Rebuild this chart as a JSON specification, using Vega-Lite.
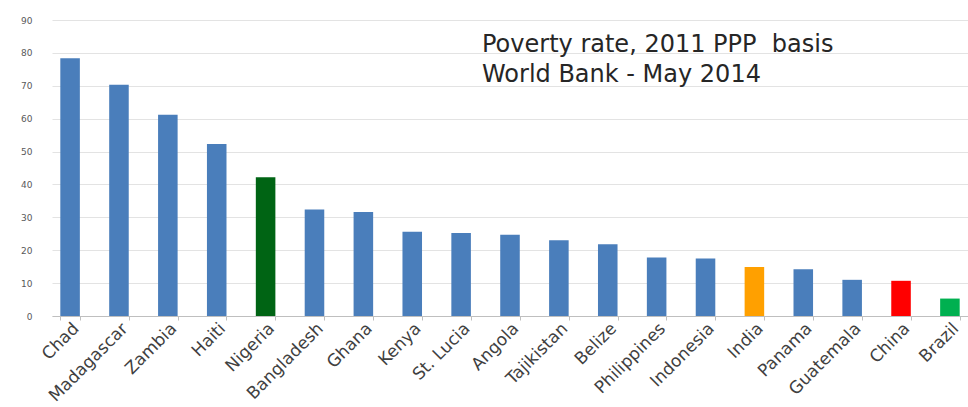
{
  "$schema": "https://vega.github.io/schema/vega-lite/v6.json",
  "autosize": {"type": "none"},
  "width": 916,
  "height": 296,
  "padding": {"left": 52, "top": 20, "right": 0, "bottom": 91},
  "background": "white",
  "title": {
    "text": ["Poverty rate, 2011 PPP\u00a0 basis", "World Bank - May 2014"],
    "anchor": "start",
    "frame": "group",
    "orient": "top",
    "baseline": "alphabetic",
    "font": "DejaVu Sans",
    "fontSize": 24,
    "fontWeight": "normal",
    "color": "#262626",
    "lineHeight": 30,
    "dx": 430,
    "dy": 57,
    "offset": -33
  },
  "data": {
    "values": [
      {"Country": "Chad", "Rate": 78.4},
      {"Country": "Madagascar", "Rate": 70.3},
      {"Country": "Zambia", "Rate": 61.2},
      {"Country": "Haiti", "Rate": 52.3},
      {"Country": "Nigeria", "Rate": 42.2},
      {"Country": "Bangladesh", "Rate": 32.4},
      {"Country": "Ghana", "Rate": 31.6},
      {"Country": "Kenya", "Rate": 25.6},
      {"Country": "St. Lucia", "Rate": 25.2},
      {"Country": "Angola", "Rate": 24.7},
      {"Country": "Tajikistan", "Rate": 23.0},
      {"Country": "Belize", "Rate": 21.8},
      {"Country": "Philippines", "Rate": 17.8},
      {"Country": "Indonesia", "Rate": 17.5},
      {"Country": "India", "Rate": 14.9},
      {"Country": "Panama", "Rate": 14.2},
      {"Country": "Guatemala", "Rate": 11.0},
      {"Country": "China", "Rate": 10.7},
      {"Country": "Brazil", "Rate": 5.3}
    ]
  },
  "mark": {"type": "bar"},
  "encoding": {
    "x": {
      "field": "Country",
      "type": "nominal",
      "sort": null,
      "scale": {"paddingInner": 0.6, "paddingOuter": 0.17},
      "axis": {
        "title": null,
        "labelAngle": -45,
        "labelFont": "DejaVu Sans",
        "labelFontSize": 17,
        "labelColor": "#404040",
        "labelPadding": 0,
        "labelOverlap": false,
        "domainColor": "#bfbfbf",
        "tickColor": "#bfbfbf",
        "tickBand": "extent",
        "tickSize": 4,
        "grid": false
      }
    },
    "y": {
      "field": "Rate",
      "type": "quantitative",
      "scale": {"domain": [0, 90], "nice": false},
      "axis": {
        "title": null,
        "values": [0, 10, 20, 30, 40, 50, 60, 70, 80, 90],
        "labelFont": "DejaVu Sans",
        "labelFontSize": 9,
        "labelColor": "#595959",
        "labelPadding": 20,
        "ticks": false,
        "domain": false,
        "gridColor": "#e3e3e3"
      }
    },
    "color": {
      "field": "Country",
      "type": "nominal",
      "legend": null,
      "scale": {
        "domain": ["Chad", "Madagascar", "Zambia", "Haiti", "Nigeria", "Bangladesh", "Ghana", "Kenya", "St. Lucia", "Angola", "Tajikistan", "Belize", "Philippines", "Indonesia", "India", "Panama", "Guatemala", "China", "Brazil"],
        "range": ["#4a7ebb", "#4a7ebb", "#4a7ebb", "#4a7ebb", "#006414", "#4a7ebb", "#4a7ebb", "#4a7ebb", "#4a7ebb", "#4a7ebb", "#4a7ebb", "#4a7ebb", "#4a7ebb", "#4a7ebb", "#ffa000", "#4a7ebb", "#4a7ebb", "#ff0000", "#00b050"]
      }
    }
  },
  "config": {"view": {"stroke": null}}
}
